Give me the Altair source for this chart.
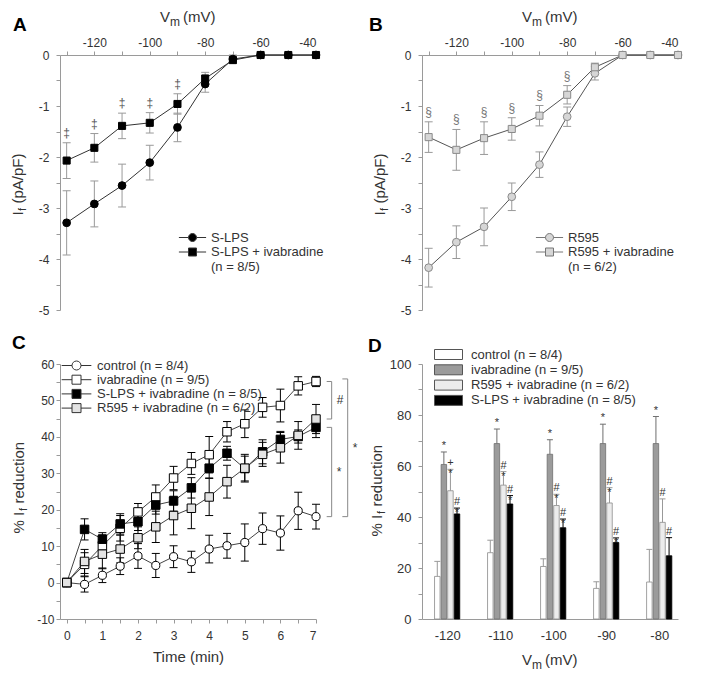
import altair as alt
import pandas as pd

FONT = "Liberation Sans"
TXT = "#333333"
AXC = "#9a9a9a"
W, H = 256, 255

# ---------------- Panel A data ----------------
vm = [-130, -120, -110, -100, -90, -80, -70, -60, -50, -40]
a_names = ["S-LPS", "S-LPS + ivabradine"]
a_note = "(n = 8/5)"
a_slps = [-3.29, -2.92, -2.56, -2.11, -1.42, -0.57, -0.08, 0.0, 0.0, 0.0]
a_slps_err = [0.63, 0.45, 0.42, 0.34, 0.28, 0.16, 0.08, 0, 0, 0]
a_iva = [-2.07, -1.82, -1.39, -1.33, -0.96, -0.46, -0.10, 0.0, 0.0, 0.0]
a_iva_err = [0.35, 0.28, 0.25, 0.20, 0.20, 0.12, 0.06, 0, 0, 0]
a_sig = ["‡", "‡", "‡", "‡", "‡", "", "", "", "", ""]

# ---------------- Panel B data ----------------
b_names = ["R595", "R595 + ivabradine"]
b_note = "(n = 6/2)"
b_r595 = [-4.17, -3.67, -3.37, -2.78, -2.15, -1.21, -0.36, 0.0, 0.0, 0.0]
b_r595_err = [0.38, 0.32, 0.37, 0.27, 0.25, 0.19, 0.13, 0, 0, 0]
b_iva = [-1.61, -1.86, -1.63, -1.45, -1.19, -0.78, -0.24, 0.0, 0.0, 0.0]
b_iva_err = [0.30, 0.40, 0.32, 0.22, 0.20, 0.18, 0.08, 0, 0, 0]
b_sig = ["§", "§", "§", "§", "§", "§", "", "", "", ""]

# ---------------- Panel C data ----------------
time_min = [0, 0.5, 1, 1.5, 2, 2.5, 3, 3.5, 4, 4.5, 5, 5.5, 6, 6.5, 7]
c_names = ["control (n = 8/4)", "ivabradine (n = 9/5)",
           "S-LPS + ivabradine (n = 8/5)", "R595 + ivabradine (n = 6/2)"]
c_control = [0, -0.5, 2.0, 4.5, 7.3, 4.7, 7.1, 5.7, 9.2, 10.1, 11.0, 14.8, 13.6, 19.7, 18.1]
c_control_err = [0, 2.1, 2.0, 2.3, 3.4, 3.3, 3.0, 2.9, 3.8, 3.4, 5.1, 4.3, 4.7, 5.1, 3.4]
c_iva = [0, 5.0, 10.1, 14.9, 19.4, 23.5, 28.7, 32.7, 35.1, 41.4, 43.6, 48.1, 48.6, 54.0, 55.2]
c_iva_err = [0, 3.2, 3.0, 3.5, 2.3, 3.3, 3.2, 3.0, 5.0, 2.8, 3.8, 2.7, 4.5, 2.5, 1.4]
c_slps = [0, 14.6, 11.9, 16.1, 16.7, 21.3, 22.4, 26.0, 31.4, 35.5, 31.3, 35.9, 39.3, 40.1, 42.6]
c_slps_err = [0, 2.9, 1.8, 2.8, 2.4, 2.5, 2.8, 2.8, 2.7, 1.9, 3.4, 3.3, 2.2, 1.8, 2.8]
c_r595 = [0, 5.8, 7.8, 9.2, 12.3, 15.3, 18.4, 20.4, 23.5, 27.7, 31.4, 35.2, 37.0, 40.4, 44.9]
c_r595_err = [0, 3.3, 4.0, 3.8, 3.0, 4.3, 5.3, 5.6, 5.1, 4.5, 3.8, 3.3, 4.2, 3.8, 4.0]

# ---------------- Panel D data ----------------
d_vm = [-120, -110, -100, -90, -80]
d_names = ["control (n = 8/4)", "ivabradine (n = 9/5)",
           "R595 + ivabradine (n = 6/2)", "S-LPS + ivabradine (n = 8/5)"]
d_control = [16.7, 26.0, 20.6, 12.0, 14.5]
d_control_err = [5.9, 4.9, 3.0, 2.6, 12.8]
d_iva = [60.6, 68.8, 64.6, 68.8, 68.8]
d_iva_err = [4.9, 5.7, 5.7, 7.6, 10.6]
d_r595 = [50.3, 52.5, 44.5, 45.5, 37.9]
d_r595_err = [8.4, 5.3, 4.4, 6.0, 9.2]
d_slps = [41.2, 45.1, 35.8, 30.0, 24.8]
d_slps_err = [2.3, 3.3, 3.4, 1.8, 7.1]
d_sig_control = ["", "", "", "", ""]
d_sig_iva = ["*", "*", "*", "*", "*"]
d_sig_r595 = ["+\n*", "#\n*", "#\n*", "#\n*", "#"]
d_sig_slps = ["#\n*", "#\n*", "#\n*", "#\n*", "#"]


def long_df(xname, xs, names, means, errs, sigs=None):
    rows = []
    for i, n in enumerate(names):
        for j, x in enumerate(xs):
            rows.append({xname: x, "series": n, "k": i, "mean": means[i][j],
                         "err": errs[i][j], "sig": sigs[i][j] if sigs else ""})
    return pd.DataFrame(rows)


def txt(text, x, y, size=15, weight="normal", angle=0, align="left",
        baseline="alphabetic", color=TXT):
    return alt.Chart(alt.Data(values=[{"k": 0}])).mark_text(
        text=text, font=FONT, fontSize=size, fontWeight=weight, angle=angle,
        align=align, baseline=baseline, color=color,
    ).encode(x=alt.value(x), y=alt.value(y))


def vm_title(cx, y):
    return [txt("V", cx - 28, y), txt("m", cx - 18, y + 4, size=12), txt("(mV)", cx - 5, y)]


def if_title(xb, y0, pct=False):
    if pct:
        return [txt("% I", xb, y0, angle=270),
                txt("f", xb + 3, y0 - 22.5, size=11, angle=270),
                txt("reduction", xb, y0 - 30, angle=270)]
    return [txt("I", xb, y0, angle=270),
            txt("f", xb + 3, y0 - 4.5, size=11, angle=270),
            txt("(pA/pF)", xb, y0 - 12, angle=270)]


def err_layers(df, xf, X, Y, color, cap, upper_only=False):
    base = alt.Chart(df).transform_filter("datum.err > 0").transform_calculate(
        lo="datum.mean" if upper_only else "datum.mean - datum.err",
        hi="datum.mean + datum.err")
    out = [
        base.mark_rule(color=color, strokeWidth=1).encode(
            x=X(xf), y=Y("lo"), y2="hi:Q"),
        base.mark_tick(color=color, orient="horizontal", size=cap, thickness=1, opacity=1).encode(
            x=X(xf), y=Y("hi")),
    ]
    if not upper_only:
        out.append(base.mark_tick(color=color, orient="horizontal", size=cap, thickness=1,
                                  opacity=1).encode(x=X(xf), y=Y("lo")))
    return out


def stub(kind, half):
    head = f"M{-half},0H-1M1,0H{half}"
    if kind == "circle":
        return head + "M1,0A1,1 0 1,1 -1,0A1,1 0 1,1 1,0Z"
    return head + "M-1,-1H1V1H-1Z"


def legend_layer(df, names, fills, shapes, stroke, size, lx, ly, loff, rpad, fs=13):
    leg = alt.Legend(title=None, orient="none", legendX=lx, legendY=ly, symbolSize=size,
                     symbolStrokeWidth=1, labelFont=FONT, labelFontSize=fs, labelColor=TXT,
                     labelOffset=loff, rowPadding=rpad, labelLimit=400, symbolOpacity=1)
    return alt.Chart(df).transform_filter("false").mark_point(
        filled=True, opacity=1, stroke=stroke, strokeWidth=1).encode(
        color=alt.Color("series:N", scale=alt.Scale(domain=names, range=fills), legend=leg),
        shape=alt.Shape("series:N", scale=alt.Scale(domain=names, range=shapes), legend=leg))


def make_xy(xscale, yscale, xaxis, yaxis):
    X = lambda f: alt.X(f"{f}:Q", scale=xscale, axis=xaxis)
    Y = lambda f: alt.Y(f"{f}:Q", scale=yscale, axis=yaxis)
    return X, Y


# ---------------- IV panels (A, B) ----------------
x_iv = alt.Scale(domain=[-132.4, -40], nice=False, zero=False)
y_iv = alt.Scale(domain=[-5, 0], nice=False, zero=False)
ax_x_iv = alt.Axis(orient="top", values=vm, title=None, tickSize=4, labelPadding=2,
                   labelExpr="datum.value % 20 == 0 ? toString(datum.value) : ''")
ax_y_iv = alt.Axis(values=[v / 2 for v in range(0, -11, -1)], title=None, tickSize=4,
                   labelPadding=7,
                   labelExpr="datum.value % 1 == 0 ? toString(datum.value) : ''")
X_iv, Y_iv = make_xy(x_iv, y_iv, ax_x_iv, ax_y_iv)


def iv_panel(letter, names, note, means, errs, sig, marker_fill, marker_stroke,
             line_col, err_col, sig_col, leg_stroke, letter_dx, leg_x):
    sigs = [[""] * len(vm), sig]
    df = long_df("Vm", vm, names, means, errs, sigs)
    line = alt.Chart(df).mark_line(color=line_col, strokeWidth=1).encode(
        x=X_iv("Vm"), y=Y_iv("mean"), detail="series:N", order="Vm:Q")
    errs_l = err_layers(df, "Vm", X_iv, Y_iv, err_col, 8)
    pts = []
    for n, shp, sz in zip(names, ["circle", "square"], [60, 50]):
        pts.append(alt.Chart(df).transform_filter(alt.datum.series == n).mark_point(
            shape=shp, filled=True, size=sz, fill=marker_fill, stroke=marker_stroke,
            strokeWidth=1, opacity=1).encode(x=X_iv("Vm"), y=Y_iv("mean")))
    sig_l = alt.Chart(df).transform_filter("datum.sig != ''").transform_calculate(
        hi="datum.mean + datum.err").mark_text(
        font=FONT, fontSize=12, color=sig_col, baseline="bottom", dy=-3).encode(
        x=X_iv("Vm"), y=Y_iv("hi"), text="sig:N")
    leg = legend_layer(df, names + [note],
                       [marker_fill, marker_fill, "transparent"],
                       [stub("circle", 3.4), stub("square", 3.4), "M0,0"],
                       leg_stroke, 64, leg_x, 176, 12, 0.5)
    return alt.layer(
        *errs_l, line, *pts, sig_l, leg,
        txt(letter, letter_dx, -24, size=19, weight="bold", color="#000"),
        *vm_title(W / 2, -33),
        *if_title(-37, H / 2 + 33),
    ).properties(width=W, height=H)


panelA = iv_panel("A", a_names, a_note, [a_slps, a_iva], [a_slps_err, a_iva_err], a_sig,
                  "#000000", "#000000", "#333333", "#999999", "#555555", "#333333", -47, 126)
panelB = iv_panel("B", b_names, b_note, [b_r595, b_iva], [b_r595_err, b_iva_err], b_sig,
                  "#d6d6d6", "#8a8a8a", "#555555", "#999999", "#777777", "#777777", -53, 121)

# ---------------- Panel C ----------------
x_c = alt.Scale(domain=[-0.19, 7], nice=False, zero=False)
y_c = alt.Scale(domain=[-10, 60], nice=False, zero=False)
ax_x_c = alt.Axis(values=time_min, tickSize=4, labelPadding=7, title="Time (min)",
                  titleFontSize=15, titlePadding=8,
                  labelExpr="datum.value % 1 == 0 ? toString(datum.value) : ''")
ax_y_c = alt.Axis(values=list(range(-10, 61, 5)), tickSize=4, labelPadding=2, title=None,
                  labelExpr="datum.value % 10 == 0 ? toString(datum.value) : ''")
X_c, Y_c = make_xy(x_c, y_c, ax_x_c, ax_y_c)

dfC = long_df("t", time_min, c_names, [c_control, c_iva, c_slps, c_r595],
              [c_control_err, c_iva_err, c_slps_err, c_r595_err])
c_fill = ["white", "white", "black", "#e3e3e3"]
c_shape = ["circle", "square", "square", "square"]

lineC = alt.Chart(dfC).mark_line(color="#444444", strokeWidth=1).encode(
    x=X_c("t"), y=Y_c("mean"), detail="series:N", order="t:Q")
errC = err_layers(dfC, "t", X_c, Y_c, "#000000", 8)
ptsC = []
for n, f, s in zip(c_names, c_fill, c_shape):
    ptsC.append(alt.Chart(dfC).transform_filter(alt.datum.series == n).mark_point(
        shape=s, filled=True, size=66 if s == "circle" else 72, fill=f, stroke="#000",
        strokeWidth=1, opacity=1).encode(x=X_c("t"), y=Y_c("mean")))
legC = legend_layer(dfC, c_names, c_fill, [stub(s, 3.3) for s in c_shape],
                    "#333333", 81, 10, -5, 14, 0.2)

# significance brackets at the right of panel C (between end values)
br = pd.DataFrame({
    "y1": [c_iva[-1], c_slps[-1], c_iva[-1] + 0.7],
    "y2": [c_r595[-1], c_control[-1], c_control[-1]],
    "lab": ["#", "*", "*"],
    "xa": [7.30, 7.30, 7.74],
    "xb": [7.44, 7.44, 7.89],
    "xt": [7.58, 7.58, 8.03],
})
br_base = alt.Chart(br)
brC = [
    br_base.mark_rule(color="#888", strokeWidth=1).encode(x=X_c("xb"), y=Y_c("y1"), y2="y2:Q"),
    br_base.mark_rule(color="#888", strokeWidth=1).encode(x=X_c("xa"), x2="xb:Q", y=Y_c("y1")),
    br_base.mark_rule(color="#888", strokeWidth=1).encode(x=X_c("xa"), x2="xb:Q", y=Y_c("y2")),
    br_base.transform_calculate(ym="(datum.y1 + datum.y2) / 2").mark_text(
        font=FONT, fontSize=12, color=TXT, baseline="middle", align="left").encode(
        x=X_c("xt"), y=Y_c("ym"), text="lab:N"),
]
panelC = alt.layer(
    *errC, lineC, *ptsC, *brC, legC,
    txt("C", -48, -15, size=19, weight="bold", color="#000"),
    *if_title(-36, H / 2 + 42, pct=True),
).properties(width=W, height=H)

# ---------------- Panel D ----------------
x_d = alt.Scale(domain=[-123.8, -77.4], nice=False, zero=False)
y_d = alt.Scale(domain=[0, 100], nice=False, zero=False)
ax_x_d = alt.Axis(values=d_vm, tickSize=0, labelPadding=10, labelFontSize=13, title=None,
                  labelExpr="toString(datum.value)")
ax_y_d = alt.Axis(values=list(range(0, 101, 10)), tickSize=4, labelPadding=7, labelFontSize=13,
                  title=None, labelExpr="datum.value % 20 == 0 ? toString(datum.value) : ''")
X_d, Y_d = make_xy(x_d, y_d, ax_x_d, ax_y_d)

dfD = long_df("Vm", d_vm, d_names, [d_control, d_iva, d_r595, d_slps],
              [d_control_err, d_iva_err, d_r595_err, d_slps_err],
              [d_sig_control, d_sig_iva, d_sig_r595, d_sig_slps])
dfD["xpos"] = dfD["Vm"] + (dfD["k"] - 1.5) * 1.24
d_fill = ["white", "#9b9b9b", "#ececec", "black"]
d_stroke = ["#8a8a8a", "#6e6e6e", "#8a8a8a", "black"]
d_errc = ["#999999", "#6e6e6e", "#999999", "#000000"]

barsD = []
errD = []
for i, n in enumerate(d_names):
    sub = dfD[dfD["series"] == n]
    barsD.append(alt.Chart(sub).mark_bar(size=5.5, fill=d_fill[i], stroke=d_stroke[i],
                                         strokeWidth=0.8).encode(x=X_d("xpos"), y=Y_d("mean")))
    errD += err_layers(sub, "xpos", X_d, Y_d, d_errc[i], 6, upper_only=True)

sigD = alt.Chart(dfD).transform_filter("datum.sig != ''").transform_calculate(
    hi="datum.mean + datum.err").mark_text(
    font=FONT, fontSize=11, color=TXT, baseline="bottom", dy=-1, lineBreak="\n",
    lineHeight=11).encode(x=X_d("xpos"), y=Y_d("hi"), text="sig:N")
legD = legend_layer(dfD, d_names, d_fill, ["M-2.8,-1H2.8V1H-2.8Z"] * 4, "#555555",
                    100, 20, -16, 16, 0.3)
panelD = alt.layer(
    *barsD, *errD, sigD, legD,
    txt("D", -54, -12, size=19, weight="bold", color="#000"),
    *if_title(-40, H / 2 + 45, pct=True),
    *vm_title(W / 2, H + 46),
).properties(width=W, height=H)

chart = alt.concat(panelA, panelB, panelC, panelD, columns=2).properties(
    spacing={"row": 54, "column": 106}, bounds="flush",
    padding={"top": 2, "left": 3, "right": 0, "bottom": 0}
).resolve_scale(
    color="independent", shape="independent"
).resolve_legend(
    color="independent", shape="independent"
).configure_view(stroke=None).configure_axis(
    domainColor=AXC, tickColor=AXC, labelColor=TXT, labelFont=FONT, labelFontSize=12,
    grid=False, titleFont=FONT, titleColor=TXT, titleFontWeight="normal",
    domainWidth=1, tickWidth=1)

chart.save("out.html", embed_options={"renderer": "svg", "actions": False})
